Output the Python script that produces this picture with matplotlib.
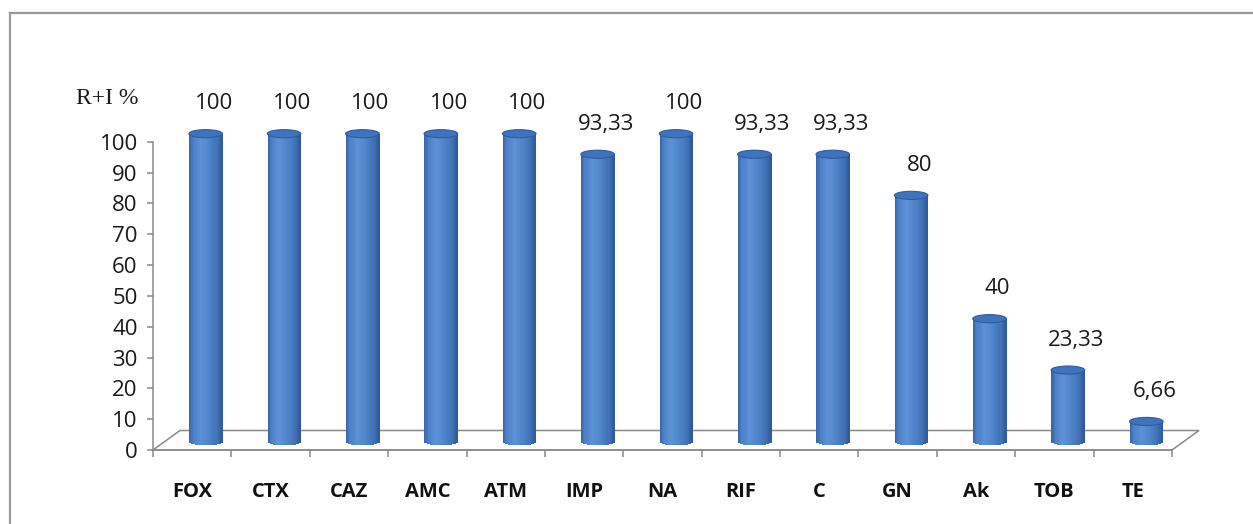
import numpy as np
import matplotlib
matplotlib.use("Agg")
import matplotlib.pyplot as plt
from matplotlib.patches import Ellipse, Polygon
from matplotlib.lines import Line2D
from matplotlib.transforms import offset_copy

# data
drugs = ["FOX", "CTX", "CAZ", "AMC", "ATM", "IMP", "NA", "RIF", "C", "GN", "Ak", "TOB", "TE"]
resist = [100, 100, 100, 100, 100, 93.33, 100, 93.33, 93.33, 80, 40, 23.33, 6.66]
yticks = [0, 10, 20, 30, 40, 50, 60, 70, 80, 90, 100]

W, H = 1253, 524
fig = plt.figure(figsize=(W / 100, H / 100), dpi=100)
fig.patch.set_facecolor("white")

# outer frame (only left and top edges are visible in the crop)
fig.add_artist(Line2D([10 / W, 10 / W], [0, 1 - 13 / H], color="#9a9a9a", lw=1.6))
fig.add_artist(Line2D([10 / W, 1], [1 - 13 / H, 1 - 13 / H], color="#9a9a9a", lw=1.6))

ax = fig.add_axes([153 / W, 74 / H, 1019 / W, 308.3 / H])
n = len(drugs)
ax.set_xlim(0, n)
ax.set_ylim(0, 100)

grey = "#8a8a8a"
for s in ["top", "right"]:
    ax.spines[s].set_visible(False)
for s in ["left", "bottom"]:
    ax.spines[s].set_color(grey)
    ax.spines[s].set_linewidth(1.1)

# floor of the 3d plot
px_x = 1019 / n
px_y = 308.3 / 100
ddx, ddy = 27 / px_x, 19.5 / px_y
floor = Polygon([(0, 0), (n, 0), (n + ddx, ddy), (ddx, ddy)], closed=True,
                fill=False, edgecolor=grey, lw=1.1, clip_on=False, zorder=1)
ax.add_patch(floor)

# cylinders
bar_tr = offset_copy(ax.transData, fig=fig, x=13.5, y=8, units="dots")
w = 0.42
b = 1.1
nstrip = 30
stops = [0, 0.12, 0.35, 0.6, 0.85, 1.0]
cols = np.array([(0.21, 0.39, 0.65), (0.30, 0.50, 0.78), (0.36, 0.57, 0.84),
                 (0.31, 0.52, 0.79), (0.25, 0.44, 0.71), (0.18, 0.34, 0.59)])
uu = (np.arange(nstrip) + 0.5) / nstrip
strip_cols = np.column_stack([np.interp(uu, stops, cols[:, k]) for k in range(3)])
rel = 2 * uu - 1
bot = -b * np.sqrt(1 - rel ** 2)

for i, v in enumerate(resist):
    x0 = i + 0.5 - w / 2
    xs = x0 + np.arange(nstrip) * w / nstrip
    ax.bar(xs, v - bot, bottom=bot, width=w / nstrip * 1.6, align="edge",
           color=strip_cols, linewidth=0, transform=bar_tr, clip_on=False, zorder=3)
    ax.add_patch(Ellipse((i + 0.5, v), w * 1.02, 2 * b * 1.2, facecolor=(0.25, 0.45, 0.74),
                         edgecolor=(0.19, 0.36, 0.62), lw=0.8, transform=bar_tr,
                         clip_on=False, zorder=4))

# value labels
lab_tr = offset_copy(ax.transData, fig=fig, x=21.5, y=38, units="dots")
for i, v in enumerate(resist):
    ax.text(i + 0.5, v, f"{v:g}".replace(".", ","), transform=lab_tr, ha="center",
            va="center", fontsize=16, family="Open Sans", color="#1a1a1a", zorder=5)

# axes ticks
ax.set_yticks(yticks)
ax.set_yticklabels([str(t) for t in yticks], fontsize=16, family="Open Sans", color="#1a1a1a")
ax.tick_params(axis="y", length=4, width=1.1, color=grey, pad=7)

ax.set_xticks(np.arange(n + 1))
ax.set_xticklabels([])
ax.set_xticks(np.arange(n) + 0.5, minor=True)
ax.set_xticklabels(drugs, minor=True, fontsize=14.5, family="Open Sans",
                   fontweight="bold", color="#111111")
ax.tick_params(axis="x", which="major", length=5, width=1.1, color=grey)
ax.tick_params(axis="x", which="minor", length=0, pad=23)

fig.text(107 / W, 1 - 98 / H, "R+I %", ha="center", va="center", fontsize=17,
         family="Liberation Serif", color="#1a1a1a")

fig.savefig("out.png", dpi=100, facecolor="white")
